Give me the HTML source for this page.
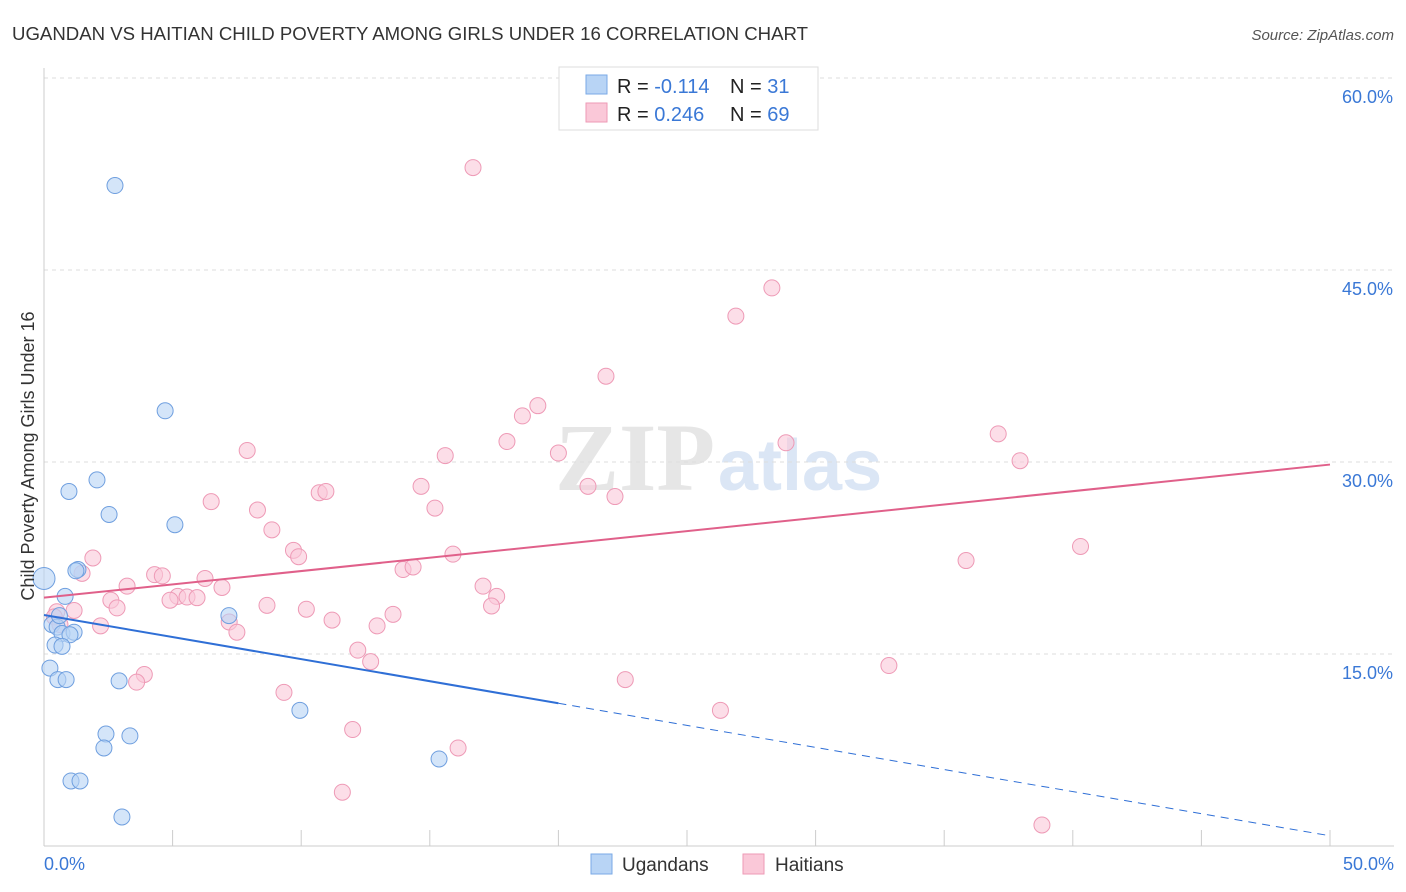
<!DOCTYPE html>
<html><head><meta charset="utf-8"><style>
body{margin:0;background:#fff;font-family:"Liberation Sans",sans-serif;}
svg{display:block}
</style></head><body>
<svg id="c" width="1406" height="892" xmlns="http://www.w3.org/2000/svg">
<text x="12" y="40" font-size="18" fill="#333" textLength="796" lengthAdjust="spacingAndGlyphs">UGANDAN VS HAITIAN CHILD POVERTY AMONG GIRLS UNDER 16 CORRELATION CHART</text>
<text x="1394" y="40" font-size="15" fill="#555" font-style="italic" text-anchor="end">Source: ZipAtlas.com</text>
<text x="715" y="490" font-size="96" fill="#e6e6e6" font-family="Liberation Serif" text-anchor="end" font-weight="bold">ZIP</text>
<text x="718" y="490" font-size="72" fill="#dbe6f5" font-weight="bold">atlas</text>
<g id="grid"></g>
<g id="axes"></g>
<g id="pts"></g>
<g id="trend"></g>
<text transform="translate(34,456) rotate(-90)" font-size="18" fill="#333" text-anchor="middle">Child Poverty Among Girls Under 16</text>
<g>
<rect x="559" y="67" width="259" height="63" fill="#fff" stroke="#ddd"/>
<rect x="586" y="75" width="21" height="19" fill="#b8d4f5" stroke="#7aa9e6"/>
<rect x="586" y="103" width="21" height="19" fill="#fac8d8" stroke="#ee9ab6"/>
<text x="617" y="93" font-size="20" fill="#222">R = <tspan fill="#3a78d6">-0.114</tspan></text>
<text x="730" y="93" font-size="20" fill="#222">N = <tspan fill="#3a78d6"> 31</tspan></text>
<text x="617" y="121" font-size="20" fill="#222">R = <tspan fill="#3a78d6"> 0.246</tspan></text>
<text x="730" y="121" font-size="20" fill="#222">N = <tspan fill="#3a78d6">69</tspan></text>
</g>
<g><rect x="591" y="854" width="21" height="20" fill="#b8d4f5" stroke="#7aa9e6"/><text x="622" y="871" font-size="19" fill="#333">Ugandans</text></g>
<g><rect x="743" y="854" width="21" height="20" fill="#fac8d8" stroke="#ee9ab6"/><text x="775" y="871" font-size="19" fill="#333">Haitians</text></g>
</svg>
<script>
const yTicks=[15,30,45,60];
const yTickLabels=["15.0%","30.0%","45.0%","60.0%"];
const xTickLabels=["0.0%","50.0%"];
const blueX=[0,2.76,4.71,2.06,0.97,2.53,5.09,1.32,1.24,0.82,0.31,0.51,0.70,1.17,1.01,0.43,0.70,0.23,0.54,0.86,2.92,7.19,9.95,2.41,3.34,2.33,1.05,1.40,15.36,3.03,0.6];
const blueY=[20.9,51.6,34.0,28.6,27.7,25.9,25.1,21.6,21.5,19.5,17.3,17.1,16.6,16.7,16.5,15.7,15.6,13.9,13.0,13.0,12.9,18.0,10.6,8.75,8.6,7.66,5.08,5.08,6.8,2.27,18.0];
const pinkX=[16.68,28.3,26.9,21.85,19.2,18.6,28.85,37.1,18.0,37.95,7.9,15.6,20.0,14.66,21.15,22.2,10.7,10.96,6.5,15.2,8.3,8.86,40.3,9.7,9.9,15.9,35.85,1.9,1.48,4.3,4.6,13.96,14.35,6.26,3.23,6.92,17.07,5.2,5.56,5.95,4.9,17.6,2.6,8.67,2.84,17.4,10.2,1.17,0.5,13.57,0.4,7.2,11.2,0.62,2.2,12.95,7.5,12.2,12.7,32.85,3.9,3.6,22.6,9.33,26.3,12.0,16.1,11.6,38.8];
const pinkY=[53.0,43.6,41.4,36.7,34.4,33.6,31.5,32.2,31.6,30.1,30.9,30.5,30.7,28.1,28.1,27.3,27.6,27.7,26.9,26.4,26.25,24.7,23.4,23.1,22.6,22.8,22.3,22.5,21.3,21.2,21.1,21.6,21.8,20.9,20.3,20.2,20.3,19.5,19.45,19.4,19.2,19.5,19.2,18.8,18.6,18.75,18.5,18.4,18.3,18.1,17.9,17.5,17.65,17.3,17.2,17.2,16.7,15.3,14.4,14.1,13.4,12.8,13.0,12.0,10.6,9.1,7.66,4.2,1.64];
const blueTrend=[18.05,0.8];
const pinkTrend=[19.4,29.8];
const X=v=>44+v*25.72, Y=v=>846-v*12.8;
const NS="http://www.w3.org/2000/svg";
function mk(t,a,p){const e=document.createElementNS(NS,t);for(const k in a)e.setAttribute(k,a[k]);p.appendChild(e);return e;}
const grid=document.getElementById('grid'),axes=document.getElementById('axes'),pts=document.getElementById('pts'),tr=document.getElementById('trend');
yTicks.forEach((t,i)=>{const l=mk('line',{x1:44,x2:1394,y1:Y(t),y2:Y(t),stroke:'#ddd','stroke-dasharray':'4,4'},grid);


const tx=mk('text',{x:1393,y:Y(t)+25,'font-size':18,fill:'#3a78d6','text-anchor':'end'},axes);tx.textContent=yTickLabels[i];

});
mk('line',{x1:44,x2:44,y1:68,y2:846,stroke:'#ccc'},axes);
mk('line',{x1:44,x2:1394,y1:846,y2:846,stroke:'#ccc'},axes);
for(let i=0;i<=10;i++){mk('line',{x1:X(i*5),x2:X(i*5),y1:830,y2:846,stroke:'#ccc'},axes);}
[[0,'start',44],[50,'end',1394]].forEach((d,i)=>{const t=mk('text',{x:d[2],y:870,'font-size':18,fill:'#3a78d6','text-anchor':d[1]},axes);t.textContent=xTickLabels[i];

});
function dots(xs,ys,f,s,n){xs.forEach((x,i)=>{const r=(x===0&&n==='ugandan')?11:8;const c=mk('circle',{cx:X(x),cy:Y(ys[i]),r:r,fill:f,'fill-opacity':0.6,stroke:s,'stroke-width':1},pts);

});}
dots(pinkX,pinkY,'#fac8d8','#ee9ab6','haitian');
dots(blueX,blueY,'#b8d4f5','#6f9fdf','ugandan');
const bAt=v=>blueTrend[0]+(blueTrend[1]-blueTrend[0])*v/50;
let l=mk('line',{x1:X(0),y1:Y(bAt(0)),x2:X(20),y2:Y(bAt(20)),stroke:'#2f6fd6','stroke-width':2},tr);


l=mk('line',{x1:X(20),y1:Y(bAt(20)),x2:X(50),y2:Y(bAt(50)),stroke:'#2f6fd6','stroke-width':1,'stroke-dasharray':'8,6'},tr);


l=mk('line',{x1:X(0),y1:Y(pinkTrend[0]),x2:X(50),y2:Y(pinkTrend[1]),stroke:'#e0608a','stroke-width':2},tr);


</script>
</body></html>
